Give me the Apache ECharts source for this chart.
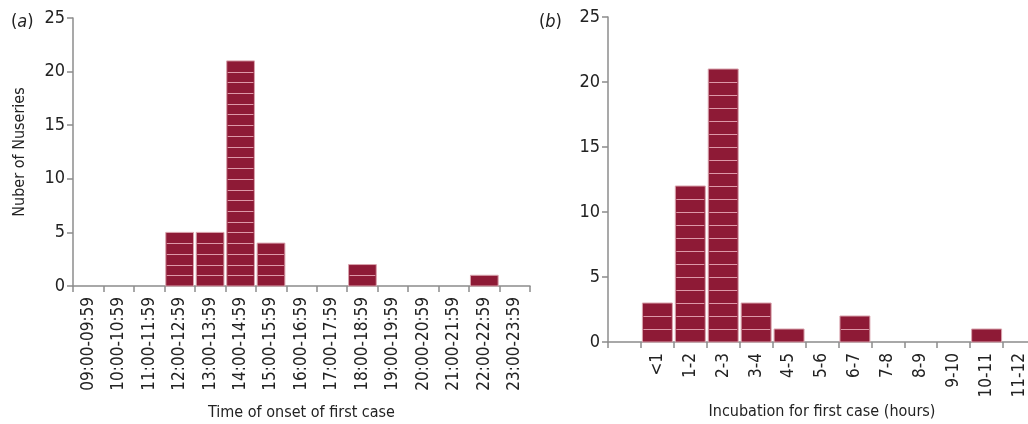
<!DOCTYPE html>
<html>
<head>
<meta charset="utf-8">
<script src="https://cdn.jsdelivr.net/npm/echarts@6/dist/echarts.min.js"></script>
<style>
html,body{margin:0;padding:0;background:#fff;}
#c{width:1028px;height:424px;}
</style>
</head>
<body>
<div id="c"></div>
<script>
// ---- data ----
const onsetCategories = ['09:00-09:59','10:00-10:59','11:00-11:59','12:00-12:59','13:00-13:59','14:00-14:59','15:00-15:59','16:00-16:59','17:00-17:59','18:00-18:59','19:00-19:59','20:00-20:59','21:00-21:59','22:00-22:59','23:00-23:59'];
const onsetCounts = [0,0,0,5,5,21,4,0,0,2,0,0,0,1,0];
const incubationCategories = ['','<1','1-2','2-3','3-4','4-5','5-6','6-7','7-8','8-9','9-10','10-11','11-12'];
const incubationCounts = [0,3,12,21,3,1,0,2,0,0,0,1,0];
const yTicks = [0,5,10,15,20,25];

const FONT = '"DejaVu Sans Condensed","Liberation Sans Narrow","Liberation Sans",sans-serif';
const TXT = '#222';
const AXIS = '#8c8c8c';
const BAR = '#8e1a36';

function renderBar(params, api) {
  const i = api.value(0), v = api.value(1);
  if (!v) return null;
  const base = api.coord([i, 0]);
  const top = api.coord([i, v]);
  const bw = api.size([1, 0])[0] * 0.91;
  const x0 = base[0] - bw / 2;
  const children = [{
    type: 'rect',
    shape: {x: x0, y: top[1], width: bw, height: base[1] - top[1]},
    style: {fill: BAR, stroke: '#d9a3ad', lineWidth: 1}
  }];
  for (let k = 1; k < v; k++) {
    const y = Math.round(api.coord([i, k])[1]) + 0.5;
    children.push({
      type: 'line',
      shape: {x1: x0 + 1, y1: y, x2: x0 + bw - 1, y2: y},
      style: {stroke: 'rgba(235,175,188,0.85)', lineWidth: 1}
    });
  }
  return {type: 'group', children};
}

function yAxisCfg(gridIndex, name) {
  return {
    type: 'value', gridIndex, min: yTicks[0], max: yTicks[yTicks.length - 1], interval: 5,
    name: name, nameLocation: 'middle', nameGap: 45, nameMoveOverlap: false,
    nameTextStyle: {fontFamily: FONT, fontSize: 16, color: TXT},
    axisLine: {show: true, lineStyle: {color: AXIS, width: 1.5}},
    axisTick: {show: true, length: 6, lineStyle: {color: AXIS, width: 1.5}},
    axisLabel: {fontFamily: FONT, fontSize: 18, color: TXT, margin: 8},
    splitLine: {show: false}
  };
}
function xAxisCfg(gridIndex, data, name, gap) {
  return {
    type: 'category', gridIndex, data, boundaryGap: true,
    name, nameLocation: 'middle', nameGap: gap, nameMoveOverlap: false,
    nameTextStyle: {fontFamily: FONT, fontSize: 16, color: TXT},
    axisLine: {show: true, lineStyle: {color: AXIS, width: 1.5}},
    axisTick: {show: true, length: 6, interval: 0, alignWithLabel: false, lineStyle: {color: AXIS, width: 1.5}},
    axisLabel: {fontFamily: FONT, fontSize: 17, color: TXT, rotate: 90, margin: 11, interval: 0},
    splitLine: {show: false}
  };
}

const chart = echarts.init(document.getElementById('c'), null, {renderer: 'canvas'});
chart.setOption({
  animation: false,
  backgroundColor: '#fff',
  graphic: [
    {type: 'text', left: 11, top: 13, style: {
      text: '{n|(}{i|a}{n|)}',
      rich: {n: {fontFamily: FONT, fontSize: 18, fill: TXT}, i: {fontFamily: FONT, fontSize: 18, fontStyle: 'italic', fill: TXT}}
    }},
    {type: 'text', left: 539, top: 13, style: {
      text: '{n|(}{i|b}{n|)}',
      rich: {n: {fontFamily: FONT, fontSize: 18, fill: TXT}, i: {fontFamily: FONT, fontSize: 18, fontStyle: 'italic', fill: TXT}}
    }}
  ],
  grid: [
    {left: 73, right: 498, top: 18, bottom: 138, outerBoundsMode: 'none', containLabel: false},
    {left: 608, right: -8, top: 17, bottom: 82, outerBoundsMode: 'none', containLabel: false}
  ],
  xAxis: [
    xAxisCfg(0, onsetCategories, 'Time of onset of first case', 119),
    xAxisCfg(1, incubationCategories, 'Incubation for first case (hours)', 62)
  ],
  yAxis: [
    yAxisCfg(0, 'Nuber of Nuseries'),
    yAxisCfg(1, '')
  ],
  series: [
    {type: 'custom', xAxisIndex: 0, yAxisIndex: 0, renderItem: renderBar,
     data: onsetCounts.map((v, i) => [i, v])},
    {type: 'custom', xAxisIndex: 1, yAxisIndex: 1, renderItem: renderBar,
     data: incubationCounts.map((v, i) => [i, v])}
  ]
});
</script>
</body>
</html>
